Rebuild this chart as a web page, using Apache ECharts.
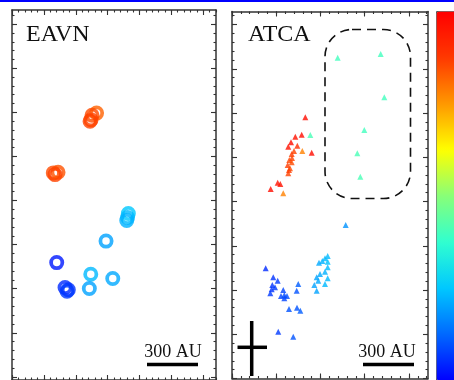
<!DOCTYPE html>
<html>
<head>
<meta charset="utf-8">
<script src="https://cdn.jsdelivr.net/npm/echarts@6/dist/echarts.min.js"></script>
<style>
html,body{margin:0;padding:0;background:#fff;}
#c{width:454px;height:380px;}
</style>
</head>
<body>
<div id="c"></div>
<script>
// ---------- DATA (offsets in mas; v = normalised velocity 0..1) ----------
const eavnX = [191.0,180.8,178.5,176.3, 93.3,104.0, 97.2, 262.8,261.0,259.2,212.4,101.0,177.9,227.6,174.7,119.8,127.2,124.3];
const eavnY = [598.2,593.3,583.1,579.7,462.6,464.0,458.8, 370.6,361.6,354.8,308.0,259.2,232.8,223.1,200.5,202.7,197.8,194.4];
const eavnV = [0.82,0.85,0.86,0.86,0.85,0.84,0.86, 0.25,0.23,0.22,0.20,0.03,0.23,0.21,0.20,0.05,0.06,0.07];

const atcaX = [238.9,336.1,344.2,299.0,283.2,290.0,177.0,
  165.7,157.5,143.1,133.3,127.2,147.6,180.1,158.9,140.1,134.9,129.5,134.9,125.9,131.1,127.2,135.6,128.8,103.3,109.2,87.5,115.9,
  257.0,
  216.3,210.2,204.1,196.6,216.3,216.3,210.2,198.9,216.3,191.4,195.0,210.2,186.0,191.4,
  76.2,93.3,103.3,91.1,97.2,89.7,86.6,149.8,146.2,115.9,110.7,118.2,124.3,118.2,128.8,146.9,154.4,104.6,138.5];
const atcaY = [725.0,733.4,635.5,561.6,509.0,456.1,550.3,
  590.3,551.0,546.5,533.8,523.9,526.1,510.3,514.2,514.2,507.4,493.8,488.6,482.5,475.1,463.8,498.3,471.2,442.5,439.6,428.3,418.6,
  346.9,
  276.9,271.7,265.6,261.7,264.0,251.3,241.4,236.2,226.5,228.7,221.0,213.6,211.3,198.4,
  249.1,228.7,221.0,211.3,206.1,201.6,192.6,213.6,198.4,200.0,186.5,188.7,186.5,181.3,157.1,160.0,153.2,105.8,94.5];
const atcaV = [0.40,0.40,0.40,0.40,0.41,0.41,0.41,
  0.97,0.97,0.96,0.97,0.96,0.90,0.97,0.78,0.86,0.87,0.86,0.85,0.87,0.85,0.86,0.86,0.87,0.96,0.96,0.97,0.78,
  0.18,
  0.23,0.23,0.22,0.21,0.24,0.23,0.22,0.21,0.23,0.20,0.21,0.23,0.20,0.20,
  0.05,0.06,0.07,0.06,0.07,0.06,0.07,0.11,0.10,0.08,0.08,0.09,0.09,0.08,0.10,0.10,0.11,0.07,0.10];

// tick values
const eavnXMinor = [0,14.4,28.8,43.2,57.6,72,86.4,100.8,115.2,129.6,144,158.4,172.8,187.2,201.6,216,230.4,244.8,259.2,273.6,288,302.4,316.8,331.2,345.6,360,374.4,388.8,403.2,417.6,432,446.4,460.8];
const eavnXMajor = [0,72,144,216,288,360,432];
const yMinor = [0,20,40,60,80,100,120,140,160,180,200,220,240,260,280,300,320,340,360,380,400,420,440,460,480,500,520,540,560,580,600,620,640,660,680,700,720,740,760,780,800,820];
const yMajor = [0,100,200,300,400,500,600,700,800];
const atcaXMinor = [0,20,40,60,80,100,120,140,160,180,200,220,240,260,280,300,320,340,360,380,400,420,440];
const atcaXMajor = [0,100,200,300,400];
const cbMinor = [0,1,2,3,4,5,6,7,8,9,10,11,12,13,14,15,16,17,18];
const cbMajor = [0,5,10,15];

const panelLabels = ['EAVN','ATCA'];
const scaleLabel = '300 AU';
const cmap = ['#0000ff','#0068ff','#00c8ff','#30ffd0','#88ff78','#ffff00','#ff9800','#ff3800','#ff0000'];

// ---------- build ----------
const eavnData = eavnX.map((x,i)=>[x,eavnY[i],eavnV[i]]);
const atcaData = atcaX.map((x,i)=>[x,atcaY[i],atcaV[i]]);

const LC = '#333';
function ax(gridIndex,pos,min,max,ticks,len,line,inverse){
  return {type:'value',gridIndex:gridIndex,position:pos,min:min,max:max,inverse:!!inverse,
    axisLine:{show:line,onZero:false,lineStyle:{color:LC,width:1.5}},
    axisTick:{show:true,inside:true,length:len,customValues:ticks,lineStyle:{color:LC,width:1.1}},
    axisLabel:{show:false},splitLine:{show:false}};
}
const ring = 'path://M50,0A50,50,0,1,1,50,100A50,50,0,1,1,50,0ZM50,25A25,25,0,1,0,50,75A25,25,0,1,0,50,25Z';

const xAxes = [
  ax(0,'bottom',0,460.8,eavnXMinor,2.5,true), ax(0,'bottom',0,460.8,eavnXMajor,5,false),
  ax(0,'top',0,460.8,eavnXMinor,2.5,true), ax(0,'top',0,460.8,eavnXMajor,5,false),
  ax(1,'bottom',0,443,atcaXMinor,2.5,true), ax(1,'bottom',0,443,atcaXMajor,5,false),
  ax(1,'top',0,443,atcaXMinor,2.5,true), ax(1,'top',0,443,atcaXMajor,5,false),
  {type:'value',gridIndex:2,show:false,min:0,max:1}
];
const yAxes = [
  ax(0,'left',-7,832,yMinor,2.5,true), ax(0,'left',-7,832,yMajor,5,false),
  ax(0,'right',-7,832,yMinor,2.5,true), ax(0,'right',-7,832,yMajor,5,false),
  ax(1,'left',0,829.4,yMinor,2.5,true), ax(1,'left',0,829.4,yMajor,5,false),
  ax(1,'right',0,829.4,yMinor,2.5,true), ax(1,'right',0,829.4,yMajor,5,false),
  ax(2,'left',0,18,cbMinor,3,false,true), ax(2,'left',0,18,cbMajor,6,false,true)
];

const serif = 'Liberation Serif';
const chart = echarts.init(document.getElementById('c'),null,{renderer:'canvas'});
chart.setOption({
  animation:false,
  backgroundColor:'#fff',
  grid:[
    {left:12,top:10,width:204,height:371},
    {left:232,top:11.5,width:196,height:367},
    {left:436,top:14.3,width:18,height:370.8}
  ],
  xAxis:xAxes,
  yAxis:yAxes,
  visualMap:{type:'continuous',min:0,max:1,dimension:2,seriesIndex:[0,1],
    inRange:{color:cmap},left:436,top:11,itemWidth:20,itemHeight:369,
    calculable:false,text:null,padding:0,borderColor:'#555',borderWidth:1,hoverLink:false},
  series:[
    {type:'scatter',xAxisIndex:0,yAxisIndex:0,symbol:ring,symbolSize:15,data:eavnData,silent:true},
    {type:'scatter',xAxisIndex:4,yAxisIndex:4,symbol:'triangle',symbolSize:6,data:atcaData,silent:true}
  ],
  graphic:[
    {type:'rect',shape:{x:0,y:0,width:454,height:2},style:{fill:'#0000ff'},z:100},
    {type:'text',x:26,y:35,style:{text:panelLabels[0],font:'24px "'+serif+'"',fill:'#111',verticalAlign:'middle'},z:100},
    {type:'text',x:248,y:35,style:{text:panelLabels[1],font:'24px "'+serif+'"',fill:'#111',verticalAlign:'middle'},z:100},
    {type:'text',x:173,y:352,style:{text:scaleLabel,font:'18px "'+serif+'"',fill:'#111',align:'center',verticalAlign:'middle'},z:100},
    {type:'text',x:387,y:352,style:{text:scaleLabel,font:'18px "'+serif+'"',fill:'#111',align:'center',verticalAlign:'middle'},z:100},
    {type:'line',shape:{x1:147,y1:364.5,x2:198,y2:364.5},style:{stroke:'#000',lineWidth:3.5},z:100},
    {type:'line',shape:{x1:363,y1:364.5,x2:414,y2:364.5},style:{stroke:'#000',lineWidth:3.5},z:100},
    {type:'line',shape:{x1:251.7,y1:321,x2:251.7,y2:376},style:{stroke:'#000',lineWidth:3.5},z:100},
    {type:'line',shape:{x1:237.5,y1:347.3,x2:267,y2:347.3},style:{stroke:'#000',lineWidth:3.5},z:100},
    {type:'rect',shape:{x:325,y:29.5,width:85.5,height:169,r:27},style:{fill:null,stroke:'#111',lineWidth:1.6,lineDash:[9,6]},z:100}
  ]
});
</script>
</body>
</html>
